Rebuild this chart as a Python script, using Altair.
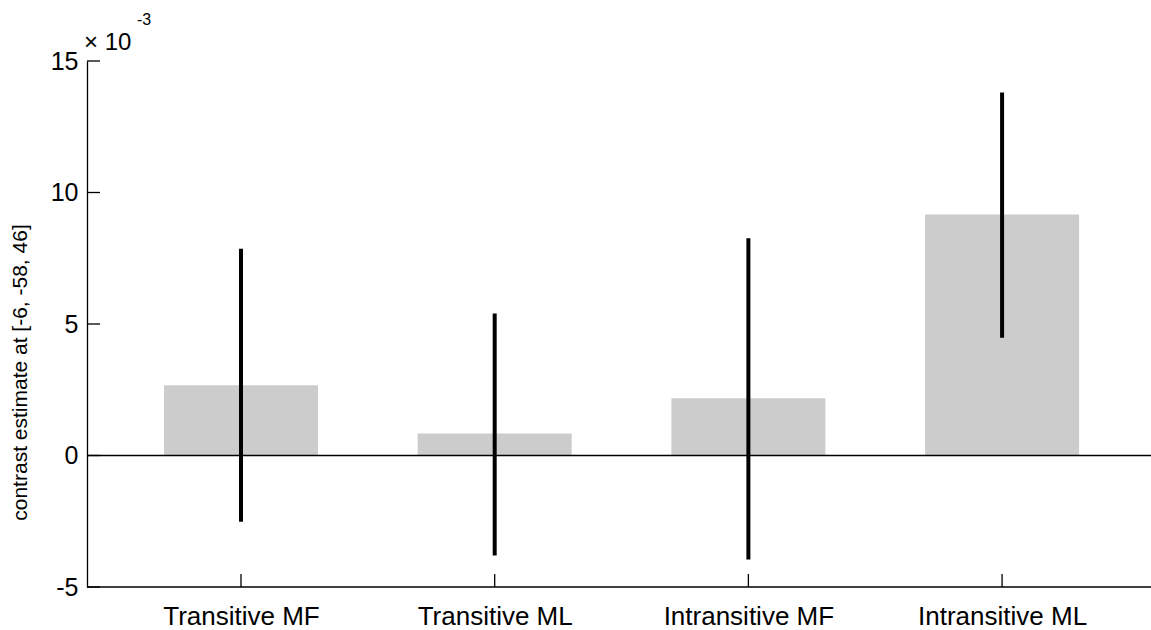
import altair as alt
import pandas as pd

# Conditions and contrast estimates with their 90% confidence bounds
conditions = ["Transitive MF", "Transitive ML", "Intransitive MF", "Intransitive ML"]
positions = [1, 2, 3, 4]
estimates = [0.00267, 0.00084, 0.00218, 0.00916]
ci_low = [-0.00252, -0.00380, -0.00395, 0.00448]
ci_high = [0.00786, 0.00540, 0.00826, 0.01380]

y_ticks = [-0.005, 0.0, 0.005, 0.010, 0.015]

BAR_WIDTH = 0.607
FONT = "Liberation Sans"
W, H = 1064, 526

df = pd.DataFrame({
    "condition": conditions,
    "pos": positions,
    "estimate": estimates,
    "lo": ci_low,
    "hi": ci_high,
})
df["x0"] = df["pos"] - BAR_WIDTH / 2
df["x1"] = df["pos"] + BAR_WIDTH / 2

label_map = "{" + ", ".join(f"'{p}': '{c}'" for p, c in zip(positions, conditions)) + "}"

x_scale = alt.Scale(domain=[0.393, 4.587], nice=False, zero=False)
y_scale = alt.Scale(domain=[-0.005, 0.015], nice=False, zero=False)

x_axis = alt.Axis(
    values=positions,
    labelExpr=f"{label_map}[datum.value + '']",
    tickSize=0,
    labelPadding=16,
    labelFont=FONT,
    labelFontSize=26,
    labelColor="black",
    domain=False,
    grid=False,
    title=None,
)
y_axis = alt.Axis(
    values=y_ticks,
    labelExpr="round(datum.value * 1000) + ''",
    tickSize=0,
    labelPadding=9,
    labelFont=FONT,
    labelFontSize=25,
    labelColor="black",
    domainColor="black",
    domainWidth=1.3,
    grid=False,
    title="contrast estimate at [-6, -58, 46]",
    titleFont=FONT,
    titleFontSize=21,
    titleFontWeight="normal",
    titleColor="black",
    titleX=-67,
    titleY=311,
    titleAngle=270,
    titleAlign="center",
    titleBaseline="middle",
)

base = alt.Chart(df)

bars = base.mark_bar(color="#cccccc").encode(
    x=alt.X("x0:Q", scale=x_scale, axis=x_axis),
    x2="x1:Q",
    y=alt.Y("estimate:Q", scale=y_scale, axis=y_axis),
    y2=alt.datum(0),
)

zero_line = alt.Chart(pd.DataFrame({"y": [0.0]})).mark_rule(
    color="black", strokeWidth=1.5
).encode(y=alt.Y("y:Q", scale=y_scale), x=alt.value(0), x2=alt.value(W))

# bottom axis line across the full width
x_domain_line = alt.Chart(pd.DataFrame({"y": [-0.005]})).mark_rule(
    color="black", strokeWidth=1.3
).encode(y=alt.Y("y:Q", scale=y_scale), x=alt.value(0), x2=alt.value(W))

errors = base.mark_rule(color="black", strokeWidth=4).encode(
    x=alt.X("pos:Q", scale=x_scale),
    y=alt.Y("lo:Q", scale=y_scale),
    y2="hi:Q",
)

# inward-pointing tick marks
y_tick_marks = alt.Chart(pd.DataFrame({"t": y_ticks})).mark_rule(
    color="black", strokeWidth=1.3
).encode(y=alt.Y("t:Q", scale=y_scale), x=alt.value(0), x2=alt.value(13))

x_tick_marks = alt.Chart(pd.DataFrame({"p": positions})).mark_rule(
    color="black", strokeWidth=1.3
).encode(x=alt.X("p:Q", scale=x_scale), y=alt.value(H), y2=alt.value(H - 13))

# axis exponent annotation
exp_base = alt.Chart(pd.DataFrame({"s": ["\u00d7 10"]})).mark_text(
    font=FONT, fontSize=24, color="black", align="left", baseline="alphabetic"
).encode(text="s:N", x=alt.value(-3), y=alt.value(-11))

exp_power = alt.Chart(pd.DataFrame({"s": ["-3"]})).mark_text(
    font=FONT, fontSize=16, color="black", align="left", baseline="alphabetic"
).encode(text="s:N", x=alt.value(50), y=alt.value(-36))

chart = alt.layer(
    bars, zero_line, x_domain_line, errors, y_tick_marks, x_tick_marks,
    exp_base, exp_power
).properties(
    width=W,
    height=H,
    autosize=alt.AutoSizeParams(type="none"),
    padding={"left": 87, "top": 61, "right": 0, "bottom": 43},
    background="white",
).configure_view(stroke=None)

chart.save("out.html", embed_options={"renderer": "svg", "actions": False})
